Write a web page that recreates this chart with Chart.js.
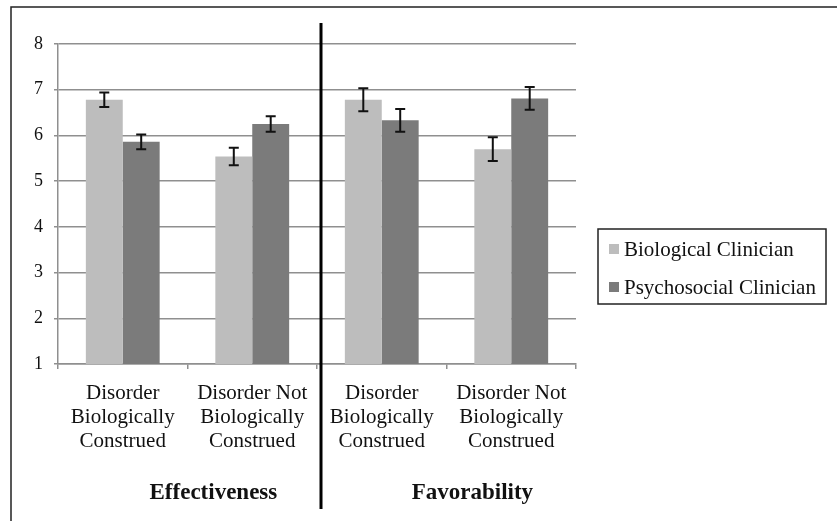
<!DOCTYPE html>
<html lang="en">
<head>
  <meta charset="UTF-8">
  <title>Effectiveness and Favorability</title>
  <style>
    body {
      margin: 0;
      background: #ffffff;
    }
    #myChart {
      display: block;
    }
  </style>
</head>
<body>
<canvas id="myChart" width="837" height="521"></canvas>

<script src="https://cdn.jsdelivr.net/npm/chart.js"></script>
<script>
  // data
  const categories = [
    ['Disorder', 'Biologically', 'Construed'],
    ['Disorder Not', 'Biologically', 'Construed'],
    ['Disorder', 'Biologically', 'Construed'],
    ['Disorder Not', 'Biologically', 'Construed']
  ];
  const groupTitles = ['Effectiveness', 'Favorability'];
  const seriesNames = ['Biological Clinician', 'Psychosocial Clinician'];
  const biological = [6.78, 5.54, 6.78, 5.70];
  const biologicalErr = [0.16, 0.19, 0.25, 0.26];
  const psychosocial = [5.86, 6.25, 6.33, 6.81];
  const psychosocialErr = [0.16, 0.17, 0.25, 0.25];
  const yTicks = [1, 2, 3, 4, 5, 6, 7, 8];

  const serif = '"Liberation Serif", "Times New Roman", serif';
  const gridGray = '#8f8f8f';

  // error bars on top of each bar
  const errorBars = {
    id: 'errorBars',
    afterDatasetsDraw(chart) {
      const ctx = chart.ctx;
      const y = chart.scales.y;
      ctx.save();
      ctx.strokeStyle = '#111';
      ctx.lineWidth = 2;
      chart.data.datasets.forEach((ds, i) => {
        chart.getDatasetMeta(i).data.forEach((bar, j) => {
          const top = y.getPixelForValue(ds.data[j] + ds.err[j]);
          const bot = y.getPixelForValue(ds.data[j] - ds.err[j]);
          ctx.beginPath();
          ctx.moveTo(bar.x, top); ctx.lineTo(bar.x, bot);
          ctx.moveTo(bar.x - 5, top); ctx.lineTo(bar.x + 5, top);
          ctx.moveTo(bar.x - 5, bot); ctx.lineTo(bar.x + 5, bot);
          ctx.stroke();
        });
      });
      ctx.restore();
    }
  };

  // frame, divider, group titles, legend box
  const extras = {
    id: 'extras',
    afterDraw(chart) {
      const ctx = chart.ctx;
      const x = chart.scales.x;
      const step = x.getPixelForValue(1) - x.getPixelForValue(0);
      ctx.save();

      ctx.strokeStyle = '#222';
      ctx.lineWidth = 1.5;
      ctx.beginPath();
      ctx.moveTo(11, 521); ctx.lineTo(11, 7); ctx.lineTo(837, 7);
      ctx.stroke();

      const mid = (x.getPixelForValue(1) + x.getPixelForValue(2)) / 2 + 4;
      ctx.strokeStyle = '#000';
      ctx.lineWidth = 3;
      ctx.beginPath();
      ctx.moveTo(mid, 23); ctx.lineTo(mid, 509);
      ctx.stroke();

      ctx.fillStyle = '#111';
      ctx.font = 'bold 23px ' + serif;
      ctx.textAlign = 'center';
      ctx.textBaseline = 'middle';
      groupTitles.forEach((t, g) => {
        const cx = (x.getPixelForValue(g * 2) + x.getPixelForValue(g * 2 + 1)) / 2 + step * 0.2;
        ctx.fillText(t, cx, 493);
      });

      ctx.strokeStyle = '#222';
      ctx.lineWidth = 1.5;
      ctx.strokeRect(598, 229, 228, 75);
      ctx.font = '21px ' + serif;
      ctx.textAlign = 'left';
      chart.data.datasets.forEach((ds, i) => {
        const cy = 250 + i * 38;
        ctx.fillStyle = ds.backgroundColor;
        ctx.fillRect(609, cy - 6, 10, 10);
        ctx.fillStyle = '#111';
        ctx.fillText(ds.label, 624, cy);
      });
      ctx.restore();
    }
  };

  new Chart(document.getElementById('myChart').getContext('2d'), {
    type: 'bar',
    data: {
      labels: categories,
      datasets: [{
        label: seriesNames[0],
        data: biological,
        err: biologicalErr,
        backgroundColor: '#bdbdbd'
      }, {
        label: seriesNames[1],
        data: psychosocial,
        err: psychosocialErr,
        backgroundColor: '#7b7b7b'
      }]
    },
    options: {
      responsive: false,
      animation: false,
      layout: { padding: { top: 44, right: 261, left: 0, bottom: 0 } },
      datasets: { bar: { categoryPercentage: 0.57, barPercentage: 1.0 } },
      plugins: {
        legend: { display: false },
        tooltip: { enabled: false }
      },
      scales: {
        x: {
          afterFit(scale) { scale.height = 157; },
          grid: { drawOnChartArea: false, color: gridGray, lineWidth: 1.5, tickLength: 5 },
          border: { color: gridGray, width: 1.5 },
          ticks: {
            color: '#111',
            padding: 12,
            maxRotation: 0,
            autoSkip: false,
            font: { family: serif, size: 21, lineHeight: 1.15 }
          }
        },
        y: {
          min: 1,
          max: 8,
          afterFit(scale) { scale.width = 58; },
          afterBuildTicks(scale) { scale.ticks = yTicks.map(v => ({ value: v })); },
          grid: { color: gridGray, lineWidth: 1.5, tickLength: 4 },
          border: { color: gridGray, width: 1.5 },
          ticks: {
            color: '#111',
            padding: 11,
            font: { family: serif, size: 18 }
          }
        }
      }
    },
    plugins: [errorBars, extras]
  });
</script>
</body>
</html>
